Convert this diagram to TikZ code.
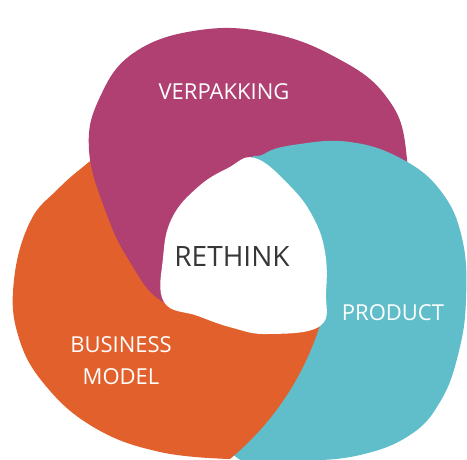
\documentclass[tikz,border=0pt]{standalone}
\usepackage{fontspec}
\setmainfont{Open Sans}
\definecolor{verpcol}{RGB}{176,64,114}
\definecolor{buscol}{RGB}{226,96,44}
\definecolor{prodcol}{RGB}{96,190,202}
\definecolor{rethinkcol}{RGB}{55,55,55}
\begin{document}
\begin{tikzpicture}[x=1pt,y=-1pt,
  label/.style={text=white,font=\fontsize{22}{32}\selectfont,align=center},
  centre/.style={text=rethinkcol,font=\fontsize{28}{32}\selectfont}]
\useasboundingbox (0,0) rectangle (467,460);
\clip (0,0) rectangle (467,460);
% blob outlines
\path[save path=\verppath] plot[smooth cycle,tension=0.7] coordinates {
  (89,150) (100,97) (135,52) (200,30) (270,33) (335,57) (385,95) (406,150)
  (400,230) (345,290) (270,312) (205,312) (160,300) (130,262) (107,215)};
\path[save path=\buspath] plot[smooth,tension=0.7] coordinates {
  (120,138) (89,162) (58,189) (30,222) (14,280) (18,335) (45,385) (95,428)
  (160,452) (230,459)}
  .. controls (273,423) and (303,378) .. (320,325) -- (300,250) -- cycle;
\path[save path=\prodpath] plot[smooth cycle,tension=0.7] coordinates {
  (264,154) (300,144) (350,142) (400,158) (440,190) (462,238) (466,300)
  (458,355) (440,402) (410,435) (360,455) (300,461) (242,461) (234,420)
  (280,300) (252,175)};
\path[save path=\holepath] plot[smooth cycle,tension=0.7] coordinates {
  (255,158) (290,186) (313,217) (325,252) (326,292) (320,326) (268,334)
  (233,328) (198,316) (164,302) (163,258) (172,218) (198,187) (228,168)};
% filling order
\fill[prodcol,use path=\prodpath];
\fill[buscol,use path=\buspath];
\fill[verpcol,use path=\verppath];
\begin{scope}
\clip[use path=\verppath];
\fill[prodcol,use path=\prodpath];
\end{scope}
\begin{scope}
\clip[use path=\prodpath];
\draw[prodcol,line width=2pt,use path=\verppath];
\end{scope}
\fill[white,use path=\holepath];
% labels
\node[label,anchor=base] (verp) at (224,100) {VERPAKKING};
\node[label,anchor=base] (prod) at (393,320) {PRODUCT};
\node[label] (bus) at (121,361) {BUSINESS\\MODEL};
\node[centre,anchor=base] (rethink) at (232,267) {RETHINK};
\end{tikzpicture}
\end{document}
